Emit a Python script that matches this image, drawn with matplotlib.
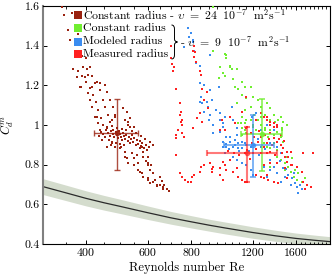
import matplotlib
matplotlib.use("Agg")
import matplotlib.pyplot as plt
from matplotlib.path import Path
from matplotlib.patches import PathPatch
import numpy as np

plt.rcParams['font.family'] = ['cmr10', 'DejaVu Serif']
plt.rcParams['mathtext.fontset'] = 'cm'
plt.rcParams['axes.formatter.use_mathtext'] = True

# ---------------- data ----------------
# reference curve (Re, Cd) with uncertainty band
curve_re = [300, 350, 400, 450, 500, 600, 700, 800, 900, 1000, 1200, 1400, 1600, 1800, 2000]
curve_cd = [0.69, 0.658, 0.63, 0.608, 0.59, 0.558, 0.532, 0.512, 0.495, 0.481, 0.458, 0.441, 0.428,
            0.419, 0.412]
curve_hw = [0.04, 0.039, 0.038, 0.037, 0.036, 0.034, 0.032, 0.031, 0.030, 0.030, 0.029, 0.028, 0.027,
            0.026, 0.025]

# constant radius, nu = 24e-7
dark_re = [341, 346, 364, 354, 378, 360, 375, 390, 400, 366, 378, 393, 403, 410, 377, 390, 398, 406, 416,
           387, 400, 416, 429, 439, 454, 406, 419, 410, 426, 439, 460, 448, 468, 416, 432, 454, 478, 429,
           442, 463, 484, 509, 524, 432, 448, 468, 516, 534, 439, 460, 478, 527, 550, 384, 410, 423, 423,
           474, 484, 527, 534,
           440, 448, 455, 462, 468, 472, 478, 482, 486, 490, 494, 497, 500, 503, 506, 510, 514, 518, 522,
           526, 530, 534, 538, 542, 546, 550, 555, 560, 565, 570, 575, 580, 586, 592, 598, 605, 452, 465,
           475, 488, 500, 512, 458, 475, 492, 508, 520, 540, 555, 575, 590, 610, 620, 470, 485, 436, 445,
           460, 474, 505, 516, 524, 550, 563, 580, 584, 600, 603, 610, 624, 630, 640, 571, 584, 600, 610,
           571, 584, 600, 620, 652, 665, 500, 516, 527, 550, 563, 580, 600, 620, 640, 665, 680, 540, 560,
           595, 615, 650, 660, 670, 690]
dark_cd = [1.595, 1.555, 1.565, 1.48, 1.46, 1.43, 1.41, 1.35, 1.34, 1.28, 1.27, 1.29, 1.28, 1.29, 1.24, 1.245,
           1.24, 1.25, 1.245, 1.19, 1.215, 1.19, 1.215, 1.21, 1.2, 1.16, 1.15, 1.125, 1.116, 1.175, 1.165,
           1.125, 1.125, 1.09, 1.075, 1.09, 1.09, 1.04, 1.035, 1.05, 1.04, 1.085, 1.065, 1.01, 1.0, 1.015,
           1.025, 1.035, 0.975, 0.985, 0.975, 1.0, 0.99, 1.19, 1.185, 1.21, 1.04, 1.025, 1.05, 1.015, 0.99,
           0.965, 0.955, 0.975, 0.96, 0.945, 0.97, 0.955, 0.94, 0.965, 0.95, 0.935, 0.97, 0.955, 0.94, 0.925,
           0.96, 0.945, 0.93, 0.95, 0.92, 0.94, 0.91, 0.93, 0.95, 0.915, 0.935, 0.9, 0.925, 0.905, 0.92,
           0.895, 0.91, 0.885, 0.9, 0.875, 0.89, 0.94, 0.925, 0.915, 0.91, 0.905, 0.9, 0.99, 0.995, 0.985,
           0.98, 0.975, 0.97, 0.96, 0.945, 0.93, 0.915, 0.9, 0.9, 0.89, 0.945, 0.925,
           0.89, 0.91, 0.89, 0.865, 0.835, 0.835, 0.81, 0.89, 0.865, 0.84, 0.81, 0.775, 0.76, 0.725, 0.69,
           0.765, 0.74, 0.725, 0.71, 0.885, 0.84, 0.8, 0.76, 0.7, 0.675, 0.885, 0.84, 0.81, 0.8, 0.775, 0.76,
           0.735, 0.715, 0.7, 0.685, 0.675, 0.86, 0.85, 0.82, 0.8, 0.74, 0.72, 0.7, 0.665]

# constant radius, nu = 9e-7
green_re = [925, 925, 1010, 1037, 971, 985, 1050, 1080, 960, 1000, 1055, 1116, 1066, 1090, 1140, 1185, 1116,
            1150, 1080, 1200, 1240, 1190, 1270, 1320, 1350, 1140, 1116, 1150, 1215, 1240, 1300, 1350, 1380,
            1420, 1090, 1140, 1200, 1300, 1350, 1410, 1460, 1109, 1116, 1140, 1200, 1230, 1266, 1300, 1350,
            1410, 1460, 1290, 1330, 1380, 1446, 1470, 1380, 1320, 1290, 1350, 1410, 1446, 1490, 1520, 1490,
            1546, 1575, 1610, 1660, 1700, 1590, 1620, 1510, 1560, 1185, 1150, 1240, 1120, 1270, 1446, 1470,
            1395, 1510, 1410, 1350, 1000, 1010, 1037]
green_cd = [1.595, 1.375, 1.355, 1.3, 1.29, 1.26, 1.28, 1.28, 1.235, 1.245, 1.23, 1.215, 1.19, 1.18, 1.19,
            1.19, 1.15, 1.135, 1.11, 1.14, 1.125, 1.09, 1.09, 1.11, 1.085, 1.075, 1.04, 1.025, 1.05, 1.025,
            1.05, 1.025, 1.05, 1.025, 1.01, 0.975, 0.99, 0.975, 0.96, 0.965, 0.985, 1.01, 0.985, 1.01, 1.0,
            0.975, 1.0, 0.985, 0.975, 0.965, 0.975, 0.95, 0.94, 0.95, 0.94, 0.915, 0.91, 0.89, 0.91, 0.885,
            0.875, 0.825, 0.81, 0.79, 0.775, 0.765, 0.74, 0.725, 0.715, 0.735, 0.775, 0.76, 0.84, 0.835,
            1.025, 0.96, 1.025, 0.95, 1.04, 1.04, 1.015, 1.015, 1.0, 0.84, 0.79, 1.36, 1.34, 1.29]

# modeled radius, nu = 9e-7
blue_re = [815, 909, 850, 847, 868, 851, 850, 860, 891, 868, 895, 905, 920, 945, 960, 971, 985, 1000, 1050,
           1055, 1080, 925, 1010, 782, 800, 810, 762, 790, 826, 808,
           990, 1037, 1066, 1090, 1116, 1140, 1010, 1055, 1090, 1120, 1185, 1215, 1266, 1037, 1080, 971, 925,
           985, 900, 905, 971, 1230, 1195, 1270, 1320, 1380, 1350, 1410, 1446, 1350, 1380, 1150, 1490, 1446,
           985, 1000, 1055, 1080, 1116, 1185, 1200, 1290, 1350, 1410, 1320, 1470, 1520, 1560, 1590, 1610,
           1620, 1660, 1546, 1010, 1030, 1070, 1100, 1150, 1170, 1240, 1250, 1300, 1440, 1500, 1580, 1640]
blue_cd = [1.375, 1.355, 1.3, 1.21, 1.2, 1.14, 1.115, 1.11, 1.115, 1.065, 1.09, 1.175, 1.125, 1.075, 1.19,
           1.025, 0.99, 1.04, 1.09, 1.025, 0.985, 0.96, 0.94, 1.49, 1.465, 1.43, 1.395, 1.445, 1.315, 1.42,
           0.915, 0.915, 0.925, 0.91, 0.915, 0.91, 0.89, 0.89, 0.885, 0.885, 0.89, 0.9, 0.89, 0.94, 0.95,
           0.965, 1.0, 1.01, 1.025, 1.05, 1.06, 1.06, 1.04, 0.975, 1.0, 0.975, 0.91, 0.89, 0.86, 0.825, 0.79,
           0.8, 0.74, 0.715, 0.89, 0.86, 0.84, 0.825, 0.81, 0.775, 0.75, 0.79, 0.775, 0.76, 0.74, 0.785,
           0.75, 0.735, 0.71, 0.685, 0.655, 0.675, 0.7, 0.905, 0.88, 0.9, 0.87, 0.9, 0.87, 0.93, 0.85, 0.88,
           0.82, 0.78, 0.76, 0.7]

# measured radius, nu = 9e-7
red_re = [702, 706, 714, 722, 742, 746, 746, 734, 754, 722, 808, 825, 847, 851, 860, 891, 873, 847, 830, 860,
          808, 762, 895, 980, 1000, 971, 1037, 1066, 1116, 1150, 1155, 1230, 1320, 1350, 1380, 1410, 710,
          820, 813, 702, 815,
          726, 754, 722, 742, 754, 766, 782, 800, 805, 847, 815, 851, 868, 905, 917, 920, 925, 971, 985,
          1000, 1010, 1037, 971, 985, 1055, 1080, 1090, 1116, 1140, 1155, 1230, 1266, 1290, 1320, 1330,
          1380, 1420, 1510, 1490, 1546, 1610, 1660, 1670, 1720, 1766, 1700, 1790, 1670, 742, 754,
          1266, 1290, 1320, 1350, 1380, 1410, 1350, 1380, 1410, 1446, 1470, 1510, 1546, 1520, 1320, 1290,
          1240, 1270, 1215, 1185, 1195, 1150, 1155, 1140, 1200, 1266, 1320, 1350, 1395, 1460, 1490, 1510,
          1560, 1410, 1350, 1290, 1300, 1340, 1360, 1430, 1450, 1480, 1250, 1230, 1180, 1100, 1060, 1020]
red_cd = [1.34, 1.31, 1.29, 1.18, 1.11, 1.065, 1.015, 0.975, 1.0, 0.95, 1.375, 1.32, 1.27, 1.25, 1.18, 1.165,
          1.125, 1.06, 1.035, 1.015, 0.985, 0.94, 1.085, 1.025, 0.975, 0.975, 1.04, 1.01, 1.065, 1.14, 0.99,
          1.025, 1.04, 1.015, 0.99, 1.0, 1.27, 1.37, 1.345, 1.4, 1.4,
          0.935, 0.96, 0.85, 0.76, 0.74, 0.725, 0.715, 0.715, 0.74, 0.765, 0.75, 0.79, 0.8, 0.81, 0.78,
          0.765, 0.79, 0.785, 0.815, 0.8, 0.775, 0.825, 0.75, 0.725, 0.765, 0.785, 0.74, 0.725, 0.715,
          0.715, 0.75, 0.74, 0.735, 0.75, 0.725, 0.715, 0.71, 0.735, 0.785, 0.8, 0.79, 0.765, 0.715, 0.7,
          0.685, 0.675, 0.86, 0.86, 1.05, 1.025,
          1.06, 1.04, 1.025, 1.0, 1.01, 0.99, 0.96, 0.935, 0.915, 0.9, 0.885, 0.865, 0.865, 0.84, 0.91,
          0.89, 0.915, 0.94, 0.94, 0.96, 0.91, 0.985, 0.875, 0.86, 0.86, 0.86, 0.86, 0.865, 0.85, 0.86,
          0.84, 0.815, 0.8, 0.81, 0.81, 0.8, 0.95, 0.93, 0.9, 0.93, 0.95, 0.92, 0.97, 0.88, 0.83, 0.85,
          0.86, 0.87]

# error bars: center, (low, high) in Re and Cd
err_dark = dict(re=490, cd=0.96, re_lo=421, re_hi=563, cd_lo=0.775, cd_hi=1.13)
err_green = dict(re=1280, cd=0.955, re_lo=1109, re_hi=1460, cd_lo=0.77, cd_hi=1.13)
err_blue = dict(re=1200, cd=0.90, re_lo=995, re_hi=1380, cd_lo=0.74, cd_hi=1.05)
err_red = dict(re=1155, cd=0.859, re_lo=890, re_hi=1410, cd_lo=0.713, cd_hi=0.99)

labels = [r'Constant radius - $\upsilon\ =\ 24\ \ 10^{-7}\ \ \mathrm{m}^2\mathrm{s}^{-1}$',
          'Constant radius', 'Modeled radius', 'Measured radius']
nu9_label = r'- $\upsilon\ =\ 9\ \ 10^{-7}\ \ \mathrm{m}^2\mathrm{s}^{-1}$'

c_dark = '#9a2210'
c_green = '#70ee30'
c_blue = '#3a8cf0'
c_red = '#ff2020'

# ---------------- figure ----------------
W, H = 332, 278
fig = plt.figure(figsize=(W / 100, H / 100), dpi=100)
L, R, T, B = 42.5, 330, 6, 244
ax = fig.add_axes([L / W, (H - B) / H, (R - L) / W, (B - T) / H])
ax.set_xscale('log')
ax.set_xlim(300, 2000)
ax.set_ylim(0.4, 1.6)

cre = np.array(curve_re)
ccd = np.array(curve_cd)
chw = np.array(curve_hw)
ax.fill_between(cre, ccd - chw, ccd + chw, color='#d4dccd', lw=0, zorder=1)
ax.plot(cre, ccd, color='#2a2a2a', lw=0.9, zorder=2)

sq = dict(marker='s', s=3.4, linewidths=0, zorder=3)
ax.scatter(dark_re, dark_cd, color=c_dark, **sq)
ax.scatter(green_re, green_cd, color=c_green, **sq)
ax.scatter(blue_re, blue_cd, color=c_blue, **sq)
ax.scatter(red_re, red_cd, color=c_red, **sq)


def ebar(e, color, alpha, lw):
    ax.errorbar([e['re']], [e['cd']],
                xerr=[[e['re'] - e['re_lo']], [e['re_hi'] - e['re']]],
                yerr=[[e['cd'] - e['cd_lo']], [e['cd_hi'] - e['cd']]],
                fmt='o', ms=3, color=color, ecolor=color, elinewidth=lw, capsize=2.2,
                capthick=lw, alpha=alpha, zorder=4)


ebar(err_dark, c_dark, 0.8, 1.0)
ebar(err_green, c_green, 0.75, 1.3)
ebar(err_blue, c_blue, 0.7, 1.3)
ebar(err_red, c_red, 0.6, 1.5)

# axes styling
ax.set_xticks([400, 600, 800, 1200, 1600])
ax.set_xticklabels(['400', '600', '800', '1200', '1600'])
ax.set_xticks(np.arange(350, 2000, 50), minor=True)
ax.xaxis.set_minor_formatter(matplotlib.ticker.NullFormatter())
ax.set_yticks([0.4, 0.6, 0.8, 1.0, 1.2, 1.4, 1.6])
ax.set_yticklabels(['0.4', '0.6', '0.8', '1', '1.2', '1.4', '1.6'])
ax.tick_params(which='major', direction='in', length=3, width=0.7, top=True, right=True,
               labelsize=8.5, pad=3)
ax.tick_params(axis='y', which='major', pad=2)
ax.tick_params(which='minor', direction='in', length=1.8, width=0.6, top=True, right=True)
ax.spines['left'].set_color('#808080')
ax.spines['left'].set_linewidth(1.5)
for s in ['bottom', 'top', 'right']:
    ax.spines[s].set_linewidth(0.8)
    ax.spines[s].set_color('black')

ax.set_xlabel('Reynolds number Re', fontsize=9, labelpad=3)
ax.set_ylabel(r'$C_d^m$', fontsize=9, labelpad=6)


# legend (manual)
def ax_xy(px, py):
    return (px - L) / (R - L), (B - py) / (B - T)


rows_py = [15, 28.3, 41.7, 54]
cols = [c_dark, c_green, c_blue, c_red]
for py, col, lab in zip(rows_py, cols, labels):
    x0, y0 = ax_xy(78, py)
    ax.scatter([x0], [y0], transform=ax.transAxes, marker='s', s=26, color=col,
               linewidths=0, zorder=6, clip_on=False)
    x1, _ = ax_xy(83, py)
    ax.text(x1, y0, lab, transform=ax.transAxes, fontsize=8.5, va='center', ha='left', zorder=6)

# brace
bx0, bx1, btip = 171.5, 174.5, 177.5
by0, by1 = 25, 59
bym = (by0 + by1) / 2
pts_px = [(bx0, by0), (bx1, by0), (bx1, by0 + 4), (bx1, bym - 3), (bx1, bym), (btip, bym),
          (bx1, bym), (bx1, bym + 3), (bx1, by1 - 4), (bx1, by1), (bx0, by1)]
codes = [Path.MOVETO, Path.CURVE3, Path.CURVE3, Path.LINETO, Path.CURVE3, Path.CURVE3,
         Path.CURVE3, Path.CURVE3, Path.LINETO, Path.CURVE3, Path.CURVE3]
verts = [ax_xy(px, py) for px, py in pts_px]
ax.add_patch(PathPatch(Path(verts, codes), transform=ax.transAxes, fill=False, lw=0.7,
                       color='black', zorder=6, clip_on=False))
tx, ty = ax_xy(180, bym)
ax.text(tx, ty, nu9_label, transform=ax.transAxes, fontsize=8.5, va='center', ha='left', zorder=6)

fig.savefig('out.png', dpi=100)
